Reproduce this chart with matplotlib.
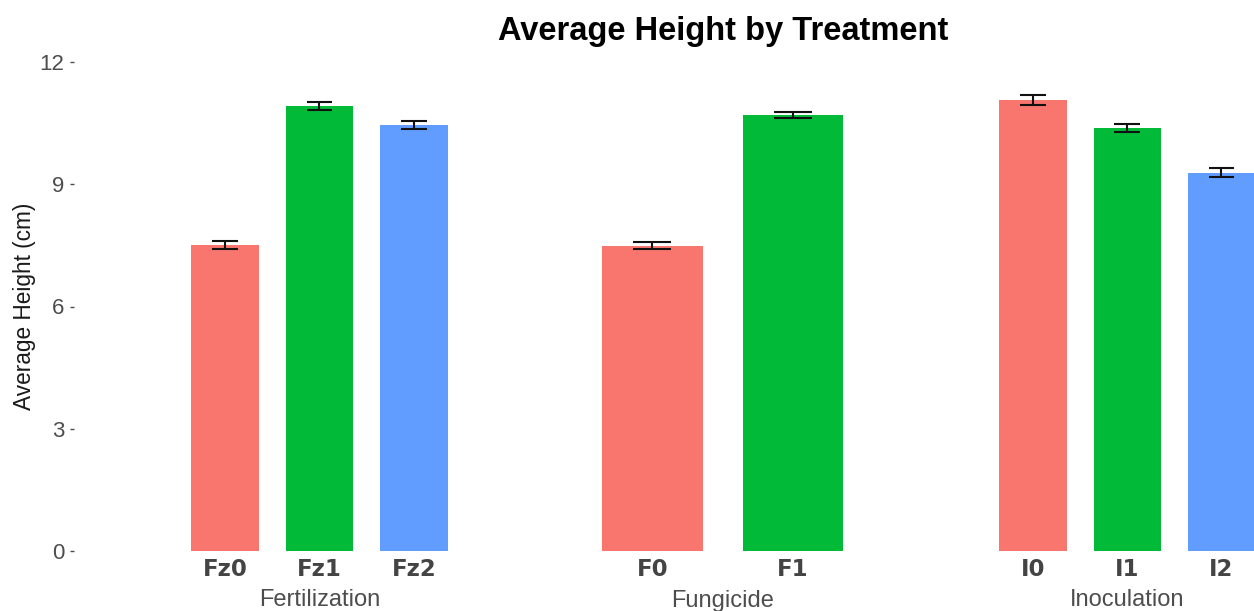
import matplotlib
matplotlib.use("Agg")
import matplotlib.pyplot as plt
import matplotlib.transforms as mtransforms
import numpy as np

# ---- data ----
groups = ["Fertilization", "Fungicide", "Inoculation"]
fert_labels = ["Fz0", "Fz1", "Fz2"]
fert_means = [7.50, 10.92, 10.45]
fert_se = [0.10, 0.10, 0.10]
fung_labels = ["F0", "F1"]
fung_means = [7.49, 10.70]
fung_se = [0.09, 0.07]
inoc_labels = ["I0", "I1", "I2"]
inoc_means = [11.07, 10.38, 9.28]
inoc_se = [0.13, 0.11, 0.11]
y_ticks = [0, 3, 6, 9, 12]

colors = ["#F8766D", "#00BA38", "#619CFF"]

W, H = 1254, 611
fig = plt.figure(figsize=(W / 100, H / 100), dpi=100)
fig.patch.set_facecolor("white")

# panel geometry in pixels: (left, width, xlim)
y_bottom_px = 551
px_per_unit = 40.75
ylim = (0, 12.3)
ax_h = (ylim[1] - ylim[0]) * px_per_unit

panels = [
    (fert_labels, fert_means, fert_se, 74, 396.5, (-1.6, 2.6)),
    (fung_labels, fung_means, fung_se, 568, 309.5, (-0.6, 1.6)),
    (inoc_labels, inoc_means, inoc_se, 976.5, 301.4, (-0.6, 2.6)),
]

axes = []
for i, (labels, means, se, left, width, xl) in enumerate(panels):
    ax = fig.add_axes([left / W, (H - y_bottom_px) / H, width / W, ax_h / H])
    axes.append(ax)
    x = np.arange(len(labels))
    ax.bar(x, means, width=0.715, color=colors[:len(labels)], zorder=2)
    m = np.array(means)
    s = np.array(se)
    ax.vlines(x, m - s, m + s, color="#111111", lw=1.5, zorder=3)
    ax.hlines(m + s, x - 0.135, x + 0.135, color="#111111", lw=1.5, zorder=3)
    ax.hlines(m - s, x - 0.135, x + 0.135, color="#111111", lw=1.5, zorder=3)
    ax.set_xlim(*xl)
    ax.set_ylim(*ylim)
    ax.set_xticks(x)
    ax.set_xticklabels(labels, fontfamily="DejaVu Sans", fontweight="bold",
                       fontsize=16.5, color="#444444")
    ax.tick_params(axis="x", length=0, pad=5.0)
    for sp in ax.spines.values():
        sp.set_visible(False)
    ax.set_facecolor("none")
    # facet label at bottom
    ax.set_xlabel(groups[i], fontfamily="Liberation Sans", fontsize=17,
                  color="#4D4D4D", va="baseline")
    tr = mtransforms.blended_transform_factory(ax.transData, fig.transFigure)
    ax.xaxis.set_label_coords((len(labels) - 1) / 2, 1 - 606.5 / H, transform=tr)
    if i == 0:
        ax.set_yticks(y_ticks)
        ax.set_yticklabels([str(t) for t in y_ticks], fontfamily="Liberation Sans",
                           fontsize=16, color="#4D4D4D")
        ax.tick_params(axis="y", length=3, width=1, color="#4D4D4D", pad=4)
        ax.set_ylabel("Average Height (cm)", fontfamily="Liberation Sans",
                      fontsize=16.3, color="#1A1A1A", va="center")
        ax.yaxis.set_label_coords(25 / W, 1 - 306 / H, transform=fig.transFigure)
    else:
        ax.set_yticks([])

fig.text(723 / W, 1 - 40 / H, "Average Height by Treatment", ha="center",
         va="baseline", fontfamily="Liberation Sans", fontweight="bold",
         fontsize=23.5, color="black")

fig.savefig("out.png", dpi=100, facecolor="white")
